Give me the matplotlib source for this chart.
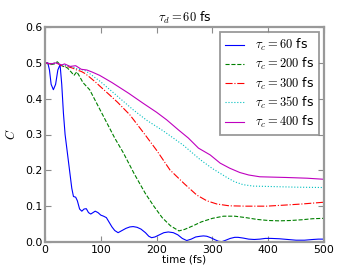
import matplotlib
matplotlib.use("Agg")
import matplotlib.pyplot as plt

plt.rcParams['mathtext.fontset'] = 'cm'
plt.rcParams['font.family'] = 'DejaVu Sans'

t_60 = [0, 5, 8, 11, 15, 19, 23, 27, 30, 33, 36, 40, 44, 48, 51, 55, 58, 62, 66, 70, 74, 78, 82, 86, 90, 95,
        100, 105, 110, 115, 120, 125, 131, 138, 145, 152, 158, 165, 172, 180, 186, 191, 197, 205, 213, 221,
        230, 238, 246, 254, 262, 270, 278, 284, 290, 297, 305, 311, 317, 324, 332, 340, 346, 355, 365, 375,
        385, 395, 405, 420, 435, 450, 465, 480, 490, 500]
c_60 = [0.5, 0.5, 0.48, 0.44, 0.425, 0.44, 0.48, 0.495, 0.44, 0.36, 0.30, 0.25, 0.20, 0.15, 0.127, 0.125,
        0.115, 0.092, 0.086, 0.092, 0.093, 0.082, 0.078, 0.082, 0.086, 0.082, 0.075, 0.072, 0.068, 0.055,
        0.042, 0.032, 0.026, 0.032, 0.038, 0.042, 0.043, 0.041, 0.036, 0.026, 0.016, 0.012, 0.014, 0.020,
        0.026, 0.028, 0.026, 0.020, 0.010, 0.004, 0.008, 0.014, 0.016, 0.017, 0.016, 0.012, 0.006, 0.002,
        0.001, 0.005, 0.010, 0.013, 0.013, 0.011, 0.008, 0.007, 0.008, 0.010, 0.010, 0.009, 0.007, 0.005,
        0.005, 0.007, 0.008, 0.008]

t_200 = [0, 10, 17, 22, 27, 33, 40, 46, 52, 57, 62, 68, 80, 100, 125, 140, 160, 180, 195, 210, 225, 240,
         250, 265, 280, 300, 320, 340, 360, 380, 400, 420, 440, 460, 480, 500]
c_200 = [0.5, 0.495, 0.497, 0.503, 0.495, 0.49, 0.486, 0.476, 0.465, 0.475, 0.462, 0.445, 0.425, 0.365,
         0.29, 0.25, 0.19, 0.135, 0.10, 0.068, 0.045, 0.031, 0.035, 0.045, 0.056, 0.066, 0.072, 0.072,
         0.068, 0.063, 0.060, 0.059, 0.060, 0.062, 0.065, 0.066]

t_300 = [0, 10, 20, 30, 40, 50, 57, 65, 72, 80, 90, 99, 116, 130, 152, 179, 200, 224, 250, 272, 290, 308,
         330, 360, 397, 430, 460, 500]
c_300 = [0.5, 0.497, 0.5, 0.492, 0.49, 0.485, 0.48, 0.476, 0.47, 0.46, 0.447, 0.434, 0.41, 0.39, 0.355,
         0.30, 0.256, 0.201, 0.162, 0.131, 0.115, 0.106, 0.101, 0.100, 0.100, 0.103, 0.106, 0.111]

t_350 = [0, 10, 20, 30, 40, 50, 60, 70, 80, 99, 120, 158, 182, 212, 248, 278, 300, 326, 340, 355, 373,
         400, 450, 500]
c_350 = [0.5, 0.497, 0.5, 0.493, 0.492, 0.488, 0.482, 0.48, 0.47, 0.448, 0.42, 0.369, 0.34, 0.31, 0.27,
         0.23, 0.205, 0.18, 0.168, 0.16, 0.156, 0.155, 0.153, 0.152]

t_400 = [0, 10, 20, 30, 35, 45, 55, 65, 75, 85, 98, 120, 150, 176, 200, 218, 239, 257, 275, 296, 314, 331,
         349, 365, 385, 433, 470, 500]
c_400 = [0.5, 0.497, 0.5, 0.494, 0.497, 0.49, 0.492, 0.482, 0.48, 0.474, 0.465, 0.445, 0.415, 0.387, 0.362,
         0.341, 0.313, 0.29, 0.262, 0.243, 0.22, 0.206, 0.194, 0.187, 0.182, 0.18, 0.178, 0.175]

labels = [r'$\tau_c=60$ fs', r'$\tau_c=200$ fs', r'$\tau_c=300$ fs', r'$\tau_c=350$ fs', r'$\tau_c=400$ fs']
x_ticks = [0, 100, 200, 300, 400, 500]
y_ticks = [0.0, 0.1, 0.2, 0.3, 0.4, 0.5, 0.6]

fig = plt.figure(figsize=(3.6, 2.69), dpi=100)
ax = fig.add_axes([0.125, 0.1004, 0.775, 0.7992])

ax.plot(t_60, c_60, color='b', ls='-', lw=0.8, label=labels[0])
ax.plot(t_200, c_200, color='g', ls='--', lw=0.8, label=labels[1])
ax.plot(t_300, c_300, color='r', ls='-.', lw=0.8, label=labels[2])
ax.plot(t_350, c_350, color='c', ls=':', lw=0.8, label=labels[3])
ax.plot(t_400, c_400, color='m', ls='-', lw=0.8, label=labels[4])

ax.set_xlim(0, 500)
ax.set_ylim(0, 0.6)
ax.set_xticks(x_ticks)
ax.set_yticks(y_ticks)
ax.set_xticklabels([str(v) for v in x_ticks])
ax.set_yticklabels(['%.1f' % v for v in y_ticks])
ax.tick_params(direction='in', top=True, right=True, labelsize=7.8, length=4, width=0.8,
               color='0.55', pad=2)
for s in ax.spines.values():
    s.set_color('0.6')
    s.set_linewidth(1.6)

ax.set_xlabel('time (fs)', fontsize=7.5, labelpad=0)
ax.set_ylabel(r'$C$', fontsize=9, labelpad=5)
ax.set_title(r'$\tau_d=60$ fs', fontsize=9, pad=4)

leg = ax.legend(loc='upper right', fontsize=9, handlelength=1.5, fancybox=False,
                borderaxespad=0.4, labelspacing=0.25, handletextpad=0.85, borderpad=0.4)
leg.get_frame().set_edgecolor('0.5')
leg.get_frame().set_linewidth(1.3)

fig.savefig('out.png', dpi=100)
